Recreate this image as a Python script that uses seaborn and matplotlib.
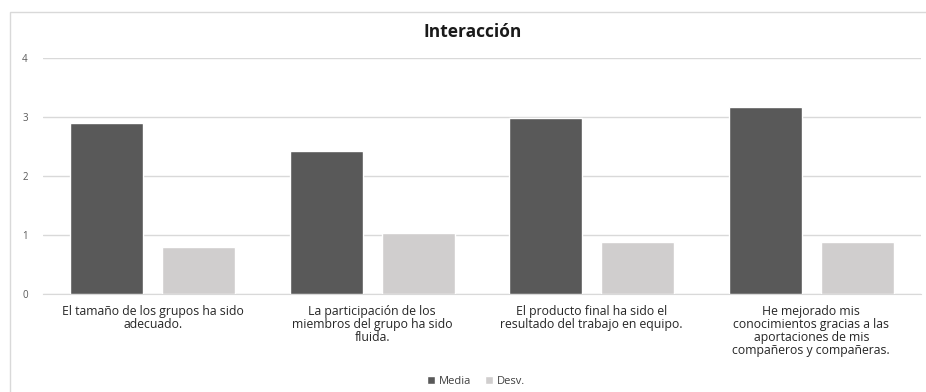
import pandas as pd
import matplotlib
matplotlib.use("Agg")
import matplotlib.pyplot as plt
from matplotlib.patches import Rectangle
import seaborn as sns

# Datos
categorias = [
    "El tamaño de los grupos ha sido\nadecuado.",
    "La participación de los\nmiembros del grupo ha sido\nfluida.",
    "El producto final ha sido el\nresultado del trabajo en equipo.",
    "He mejorado mis\nconocimientos gracias a las\naportaciones de mis\ncompañeros y compañeras.",
]
media = [2.90, 2.42, 2.98, 3.17]
desv = [0.80, 1.03, 0.88, 0.88]
series = ["Media", "Desv."]

df = pd.DataFrame({
    "Pregunta": categorias * 2,
    "Serie": [series[0]] * 4 + [series[1]] * 4,
    "Valor": media + desv,
})

sns.set_style("white")
plt.rcParams["font.family"] = ["Open Sans", "DejaVu Sans"]

fig = plt.figure(figsize=(9.26, 3.92), dpi=100)
ax = fig.add_axes([43 / 926, 1 - 294 / 392, 878 / 926, (294 - 58) / 392])

sns.barplot(data=df, x="Pregunta", y="Valor", hue="Serie",
            palette=["#595959", "#d0cece"], width=0.84, gap=0.21,
            saturation=1, ax=ax, zorder=3)

ax.set_ylim(0, 4)
ax.set_xlim(-0.5, 3.5)
ax.set_yticks([0, 1, 2, 3, 4])
ax.yaxis.grid(True, color="#d9d9d9", linewidth=1, zorder=0)
for s in ax.spines.values():
    s.set_visible(False)
ax.spines["bottom"].set_visible(True)
ax.spines["bottom"].set_color("#d9d9d9")
ax.tick_params(axis="y", length=0, labelsize=7, labelcolor="#595959", pad=11)
ax.tick_params(axis="x", length=0, labelsize=8.8, labelcolor="#262626", pad=8)
for lbl in ax.get_xticklabels():
    lbl.set_linespacing(1.0)
ax.set_xlabel("")
ax.set_ylabel("")

fig.text(473 / 926, 1 - 32 / 392, "Interacción", ha="center", va="center",
         fontsize=12.5, fontweight="bold", color="#1a1a1a")

leg = ax.legend(loc="center", bbox_to_anchor=(476 / 926, 1 - 381 / 392),
                bbox_transform=fig.transFigure, ncol=2, frameon=False,
                fontsize=8, handlelength=0.7, handleheight=0.7,
                handletextpad=0.4, columnspacing=1.2)
for t in leg.get_texts():
    t.set_color("#404040")

# marco del gráfico
fig.patches.append(Rectangle((10 / 926, -0.1), 1.2, 1.1 - 12 / 392,
                             transform=fig.transFigure, fill=False,
                             edgecolor="#d9d9d9", linewidth=1))

fig.savefig("out.png", dpi=100)
